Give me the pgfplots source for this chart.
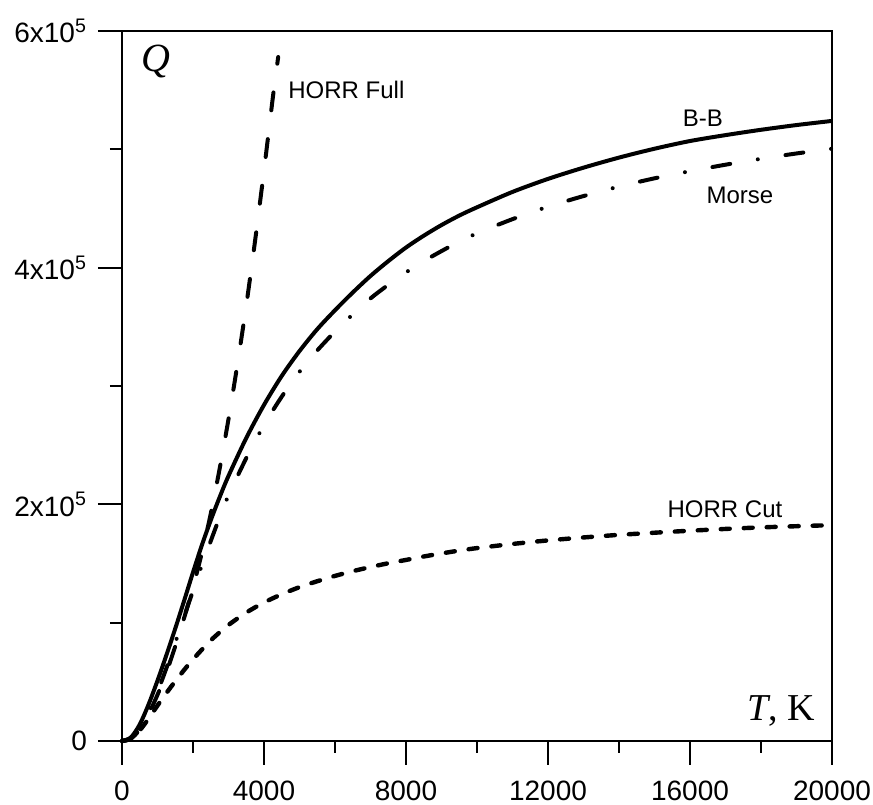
\documentclass[border=0pt]{standalone}
\usepackage{pgfplots}
\pgfplotsset{compat=1.18}
\usepackage{fontspec}
\setmainfont{Liberation Sans}
\newfontfamily\serif{Liberation Serif}

\pgfplotstableread{
T Q
0 0
250 3000
500 14000
750 31000
1000 51000
1250 72500
1500 95000
1750 118500
2000 142500
2250 165500
2500 186500
2750 206000
3000 224000
3500 256000
4000 284000
4500 308500
5000 329500
5500 348000
6000 364000
6500 379000
7000 393000
7500 405500
8000 417000
8500 427000
9000 436000
9500 444000
10000 451000
11000 464000
12000 475000
13000 484500
14000 493000
15000 500500
16000 507000
17000 512000
18000 516500
19000 520500
20000 524000
}\bb

\pgfplotstableread{
T Q
0 0
250 2000
500 10000
750 24000
1000 41500
1250 61500
1500 83000
1750 105000
2000 127000
2250 148500
2500 169000
2750 189000
3000 207500
3500 239000
4000 267000
4500 291000
5000 312000
5500 330000
6000 346000
6500 360500
7000 374000
7500 385500
8000 396000
8500 405500
9000 414000
9500 422000
10000 429000
11000 441000
12000 451500
13000 460500
14000 468500
15000 475500
16000 481500
17000 487000
18000 492000
19000 496500
20000 500500
}\morse

\pgfplotstableread{
T Q
0 0
250 2000
500 10000
750 23000
1000 39000
1250 58000
1500 80000
1750 104000
2000 130000
2250 159000
2500 192000
2750 230000
3000 272000
3250 318000
3500 368000
3750 423000
4000 482000
4250 544000
4400 578000
}\full

\pgfplotstableread{
T Q
0 0
250 2000
500 9000
750 19000
1000 30000
1250 40500
1500 50500
1750 60000
2000 69000
2500 85000
3000 98000
3500 108500
4000 117000
4500 124000
5000 130000
5500 135000
6000 139500
6500 143500
7000 147000
7500 150200
8000 153000
8500 155900
9000 158500
9500 160900
10000 163000
11000 166500
12000 169500
13000 172000
14000 174200
15000 176000
16000 177700
17000 179200
18000 180500
19000 181500
20000 182400
}\cut

\begin{document}
\begin{tikzpicture}
\begin{axis}[
  scale only axis, width=355pt, height=355pt,
  xmin=0, xmax=20000, ymin=0, ymax=600000,
  axis line style={line width=1pt},
  xtick={0,4000,8000,12000,16000,20000},
  minor xtick={2000,6000,10000,14000,18000},
  xticklabels={0,4000,8000,12000,16000,20000},
  ytick={0,200000,400000,600000},
  minor ytick={100000,300000,500000},
  yticklabels={0\hspace{2.5pt},2x10\textsuperscript{5},4x10\textsuperscript{5},6x10\textsuperscript{5}},
  scaled ticks=false,
  tick align=outside, tick pos=left,
  major tick length=12pt, minor tick length=6pt,
  every tick/.style={black, line width=1pt},
  tick label style={font=\fontsize{14}{16}\selectfont},
  xticklabel style={yshift=-4.5pt},
  yticklabel style={xshift=-2pt},
  clip=false,
]
\addplot[black, line width=2pt, smooth] table[x=T,y=Q] {\bb};
\addplot[black, line width=2pt, smooth, line cap=round, dash pattern=on 9pt off 14pt on 0pt off 14pt] table[x=T,y=Q] {\morse};
\addplot[black, line width=2pt, smooth, line cap=round, dash pattern=on 9pt off 14.5pt] table[x=T,y=Q] {\full};
\addplot[black, line width=2.2pt, smooth, line cap=round, dash pattern=on 4.5pt off 7pt] table[x=T,y=Q] {\cut};

\node[anchor=west, inner sep=0pt, font=\fontsize{12}{14}\selectfont] at (axis cs:4676,550000) {HORR Full};
\node[font=\fontsize{12}{14}\selectfont] at (axis cs:16366,526500) {B-B};
\node[font=\fontsize{12}{14}\selectfont] at (axis cs:17408,461400) {Morse};
\node[font=\fontsize{12}{14}\selectfont] at (axis cs:16986,196000) {HORR Cut};
\node[font=\fontsize{20}{22}\selectfont\serif] at (axis cs:958,574000) {\itshape Q};
\node[font=\fontsize{19}{22}\selectfont\serif] at (axis cs:18563,25400) {\textit{T}, K};
\end{axis}
\pgfresetboundingbox
\path[use as bounding box] ([shift={(-61pt,-32pt)}]current axis.south west) rectangle ([shift={(20.5pt,15.5pt)}]current axis.north east);
\end{tikzpicture}
\end{document}
